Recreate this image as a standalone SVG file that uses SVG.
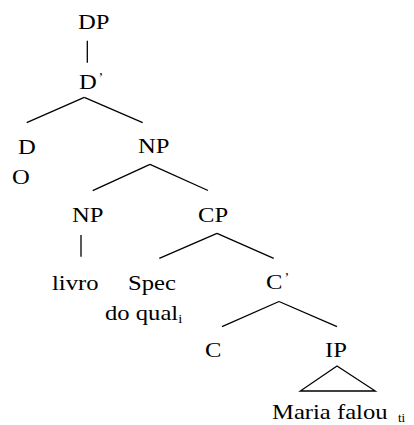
<svg xmlns="http://www.w3.org/2000/svg" width="414" height="425" viewBox="0 0 414 425">
<style>
text{font-family:"Liberation Serif","Times New Roman",serif;font-size:22px;fill:#000}
text.sub{font-size:13px}
text.prime{font-size:14px}
line,polygon{stroke:#000;stroke-width:1.3;fill:none}
</style>
<rect width="414" height="425" fill="#fff"/>
<g id="connectors">
<line x1="87.3" y1="40.7" x2="87.3" y2="62.7"/>
<line x1="84.3" y1="97.3" x2="26.7" y2="122.7"/>
<line x1="84.3" y1="97.3" x2="142.7" y2="122.7"/>
<line x1="150" y1="164.3" x2="92.7" y2="190.7"/>
<line x1="150" y1="164.3" x2="208" y2="190.5"/>
<line x1="81" y1="235" x2="81" y2="256.7"/>
<line x1="217" y1="233.3" x2="159.3" y2="258.3"/>
<line x1="217" y1="233.3" x2="273.7" y2="258.3"/>
<line x1="279" y1="301.5" x2="222" y2="326.7"/>
<line x1="279" y1="301.5" x2="337" y2="326.7"/>
<polygon points="337,366 300.3,391 375.3,391"/>
</g>
<g id="DP"><text transform="translate(78 29) scale(1.12 1)">DP</text></g>
<g id="Dbar"><text transform="translate(79 89) scale(1.12 1)">D</text><text class="prime" x="98.5" y="83">’</text></g>
<g id="D"><text transform="translate(18 154) scale(1.12 1)">D</text><text transform="translate(12 184) scale(1.12 1)">O</text></g>
<g id="NP1"><text transform="translate(138 153) scale(1.12 1)">NP</text></g>
<g id="NP2"><text transform="translate(72 221.5) scale(1.12 1)">NP</text><text transform="translate(52 290) scale(1.12 1)">livro</text></g>
<g id="CP"><text transform="translate(198 221.5) scale(1.12 1)">CP</text></g>
<g id="Spec"><text transform="translate(128 290) scale(1.12 1)">Spec</text><text transform="translate(105 320) scale(1.12 1)">do qual<tspan class="sub" font-size="13" dy="3">i</tspan></text></g>
<g id="Cbar"><text transform="translate(266 289) scale(1.12 1)">C</text><text class="prime" x="284.5" y="283">’</text></g>
<g id="C"><text transform="translate(205 356.5) scale(1.12 1)">C</text></g>
<g id="IP"><text transform="translate(325 356.5) scale(1.12 1)">IP</text><text transform="translate(272 419) scale(1.12 1)">Maria falou</text><text class="sub" x="398" y="422">ti</text></g>
</svg>
